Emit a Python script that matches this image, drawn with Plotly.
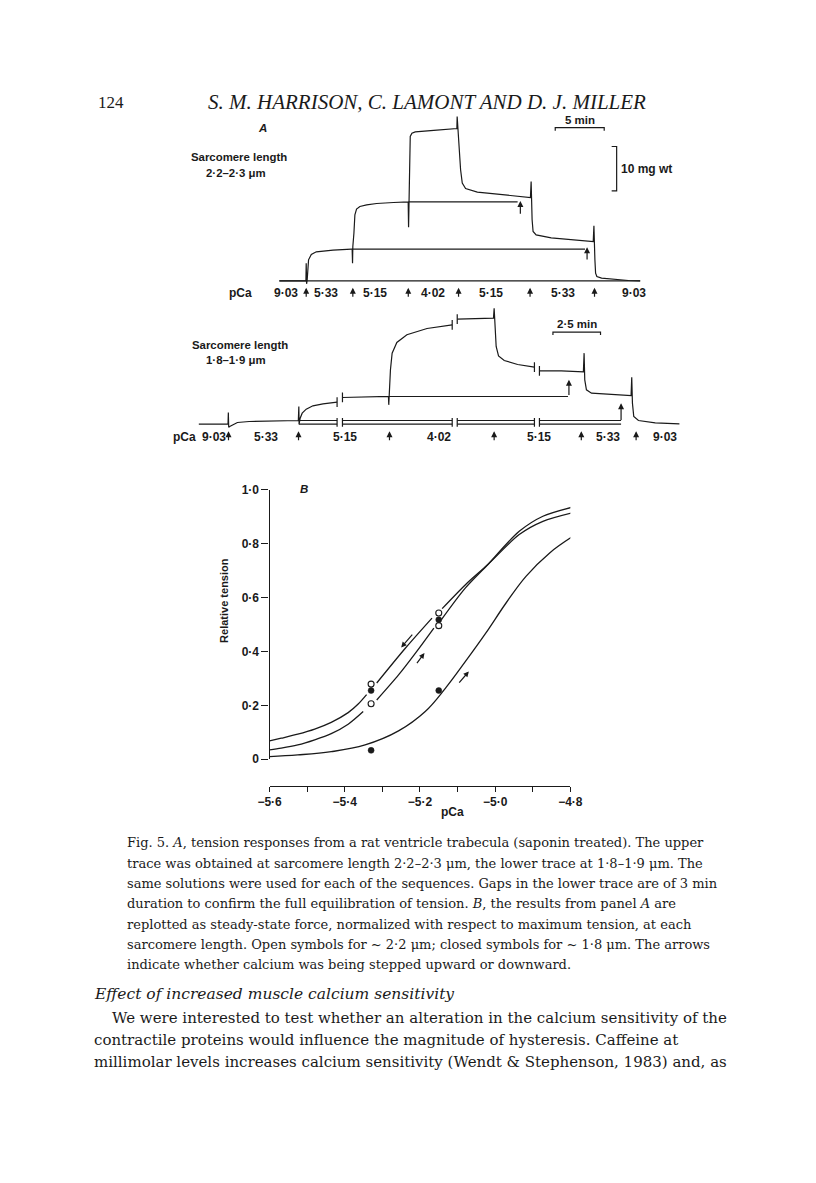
import plotly.graph_objects as go

W, H = 816, 1183
INK = "#1a1a1a"
SANS = "Liberation Sans"
SERIF = "DejaVu Serif"

# ---------------- Panel A, upper trace (time in min, force in mg) ----------------
upper_t = [0, 2.60, 2.71, 2.74, 2.78, 2.84, 2.98, 3.26, 3.77, 5.48, 7.36, 7.43, 7.47, 7.50, 7.61,
           7.71, 7.88, 8.22, 8.91, 9.93, 11.65, 13.15, 13.19, 13.26, 13.29, 13.36, 13.53, 13.87,
           15.76, 18.12, 18.15, 18.22, 18.36, 18.50, 18.67, 19.01, 20.21, 22.61, 25.63, 25.70,
           25.73, 25.80, 25.90, 26.21, 27.75, 30.15, 32.04, 32.11, 32.14, 32.21, 32.28, 32.41,
           32.89, 34.26, 35.63, 36.83]
upper_f = [0, 0, 0, 3.99, -0.68, 0.23, 4.74, 5.94, 6.55, 6.92, 7.15, 7.15, 3.99, 7.75, 10.76,
           14.90, 16.18, 16.78, 17.16, 17.46, 17.68, 17.83, 12.11, 18.28, 25.81, 32.58, 33.33, 33.63,
           33.94, 34.39, 37.10, 34.09, 29.57, 25.06, 22.05, 20.84, 20.02, 19.41, 18.81, 22.42,
           18.28, 13.77, 11.14, 10.38, 9.71, 9.26, 8.88, 12.42, 8.50, 4.74, 1.73, 0.98,
           0.60, 0.30, 0.08, 0]
upper_ref_t = [[13.19, 24.32], [7.47, 31.20]]
upper_ref_f = [17.80, 7.15]
upper_mark_t = [24.60, 31.41]
upper_mark_tail = [14.8, 4.5]
upper_mark_head = [18.0, 7.6]
upper_change_t = [2.74, 7.50, 13.16, 18.29, 25.59, 32.17]
upper_label_t = [0.72, 4.80, 9.76, 15.72, 21.58, 28.95, 36.15]
upper_labels = ["9·03", "5·33", "5·15", "4·02", "5·15", "5·33", "9·03"]

# ---------------- Panel A, lower trace ----------------
lower_t = [0, 1.50, 1.534, 1.552, 1.570, 1.623, 1.764, 2.028, 2.646, 3.527, 5.23, 5.256, 5.27,
           5.326, 5.432, 5.644, 5.996, 6.526, 7.266, None,
           7.549, 8.466, 9.877, 9.965, 9.982, 10.018, 10.07, 10.159, 10.406, 10.935, 11.993,
           13.316, None,
           13.58, 14.462, 15.485, 15.52, 15.556, 15.626, 15.75, 16.05, 16.755, 17.637, None,
           17.90, 19.05, 20.21, 20.247, 20.282, 20.37, 20.635, 21.869, 22.716, 22.751, 22.787,
           22.857, 23.104, 23.986, 25.256]
lower_f = [0, 0, 0, 2.63, -0.68, -0.53, -0.23, 0.38, 0.60, 0.68, 0.83, 3.99, 0.0,
           1.35, 2.48, 3.39, 4.14, 4.59, 4.97, None,
           6.02, 6.17, 6.25, 6.25, 4.36, 7.75, 12.26, 16.03, 18.43, 20.17, 21.60,
           22.42, None,
           23.70, 23.85, 23.93, 26.18, 21.67, 17.53, 15.42, 14.37, 13.47, 12.87, None,
           12.04, 12.04, 11.81, 16.03, 10.01, 7.75, 7.00, 6.70, 6.47, 10.61, 4.74,
           1.73, 0.83, 0.30, 0.075]
lower_gaps = [[7.266, 7.549], [13.316, 13.58], [17.637, 17.90]]
lower_gap_f = [[4.97, 6.02], [22.42, 23.70], [12.87, 12.04]]
lower_base_span = [5.256, 22.19]
lower_base_f = [0.0, 0.83]
lower_ref_t = [9.965, 19.40]
lower_ref_f = 6.25
lower_mark_t = [19.45, 22.19]
lower_mark_tail = [6.25, 0.60]
lower_mark_head = [10.0, 4.74]
lower_change_t = [1.56, 5.24, 10.02, 15.52, 20.10, 22.98]
lower_label_t = [0.79, 3.53, 7.67, 12.61, 17.90, 21.48, 24.51]
lower_labels = ["9·03", "5·33", "5·15", "4·02", "5·15", "5·33", "9·03"]

# ---------------- Panel B ----------------
curveA_x = [-5.600, -5.569, -5.525, -5.480, -5.436, -5.391, -5.365, -5.342, None, -5.315, -5.239,
            -5.168, None, -5.141, -5.079, -5.020, -4.936, -4.873, -4.797]
curveA_y = [0.068, 0.078, 0.093, 0.112, 0.137, 0.173, 0.204, 0.240, None, 0.283, 0.412,
            0.524, None, 0.559, 0.648, 0.722, 0.834, 0.883, 0.914]
curveB_x = [-5.600, -5.569, -5.525, -5.480, -5.436, -5.391, -5.351, None, -5.315, -5.257, -5.212,
            -5.163, None, -5.143, -5.079, -5.020, -4.936, -4.873, -4.797]
curveB_y = [0.035, 0.041, 0.053, 0.072, 0.095, 0.130, 0.177, None, 0.220, 0.313, 0.394,
            0.487, None, 0.518, 0.636, 0.722, 0.846, 0.902, 0.935]
curveC_x = [-5.600, -5.525, -5.436, -5.346, -5.257, -5.186, -5.132, -5.079, -5.025, -4.971,
            -4.918, -4.855, -4.797]
curveC_y = [0.010, 0.016, 0.028, 0.053, 0.105, 0.177, 0.264, 0.363, 0.468, 0.580,
            0.679, 0.766, 0.824]
open_x = [-5.33, -5.33, -5.15, -5.15]
open_y = [0.279, 0.206, 0.543, 0.496]
closed_x = [-5.33, -5.33, -5.15, -5.15]
closed_y = [0.255, 0.033, 0.518, 0.255]
arrows_B = [  # (tail x, tail y, head x, head y)
    (-5.217, 0.468, -5.250, 0.415),
    (-5.211, 0.351, -5.188, 0.394),
    (-5.099, 0.279, -5.070, 0.326),
]
xB_ticks = [-5.6, -5.4, -5.2, -5.0, -4.8]
xB_ticktext = ["−5·6", "−5·4", "−5·2", "−5·0", "−4·8"]
xB_minor = [-5.5, -5.3, -5.1, -4.9]
yB_ticks = [0, 0.2, 0.4, 0.6, 0.8, 1.0]
yB_ticktext = ["0", "0·2", "0·4", "0·6", "0·8", "1·0"]

caption = [
    "Fig. 5. <i>A</i>, tension responses from a rat ventricle trabecula (saponin treated). The upper",
    "trace was obtained at sarcomere length 2·2–2·3 μm, the lower trace at 1·8–1·9 μm. The",
    "same solutions were used for each of the sequences. Gaps in the lower trace are of 3 min",
    "duration to confirm the full equilibration of tension. <i>B</i>, the results from panel <i>A</i> are",
    "replotted as steady-state force, normalized with respect to maximum tension, at each",
    "sarcomere length. Open symbols for ~ 2·2 μm; closed symbols for ~ 1·8 μm. The arrows",
    "indicate whether calcium was being stepped upward or downward.",
]
body = [
    "We were interested to test whether an alteration in the calcium sensitivity of the",
    "contractile proteins would influence the magnitude of hysteresis. Caffeine at",
    "millimolar levels increases calcium sensitivity (Wendt & Stephenson, 1983) and, as",
]


# page-placement correction (observed offset/scale of the photographed page)
def X(px):
    return (px - 22.4) / 0.964


def Y(py):
    return (py - 15.2) / 0.988


fig = go.Figure()
line = dict(color=INK, width=1.2)

# upper trace
fig.add_trace(go.Scatter(x=upper_t, y=upper_f, mode="lines", line=line, xaxis="x", yaxis="y"))
fig.add_trace(go.Scatter(x=[upper_t[0], upper_t[-1]], y=[0, 0], mode="lines", line=line,
                         xaxis="x", yaxis="y"))
for span, f in zip(upper_ref_t, upper_ref_f):
    fig.add_trace(go.Scatter(x=span, y=[f, f], mode="lines", line=line, xaxis="x", yaxis="y"))
# scale bars (upper)
fig.add_trace(go.Scatter(x=[28.16, 28.16, 33.16, 33.16], y=[33.9, 34.6, 34.6, 33.9], mode="lines",
                         line=line, xaxis="x", yaxis="y"))
fig.add_trace(go.Scatter(x=[33.92, 34.43, 34.43, 33.92], y=[30.32, 30.32, 20.32, 20.32], mode="lines",
                         line=line, xaxis="x", yaxis="y"))

# lower trace
fig.add_trace(go.Scatter(x=lower_t, y=lower_f, mode="lines", line=line, xaxis="x2", yaxis="y2",
                         connectgaps=False))
for fb in lower_base_f:
    xs, ys = [], []
    start = lower_base_span[0]
    for g0, g1 in lower_gaps:
        xs += [start, g0, None]
        ys += [fb, fb, None]
        start = g1
    xs += [start, lower_base_span[1]]
    ys += [fb, fb]
    fig.add_trace(go.Scatter(x=xs, y=ys, mode="lines", line=line, xaxis="x2", yaxis="y2"))
# gap markers
gx, gy = [], []
for (g0, g1), (f0, f1) in zip(lower_gaps, lower_gap_f):
    for t, f in ((g0, f0), (g1, f1)):
        gx += [t, t, None]
        gy += [f - 1.1, f + 1.1, None]
    for t in (g0, g1):
        gx += [t, t, None]
        gy += [-0.6, 1.4, None]
fig.add_trace(go.Scatter(x=gx, y=gy, mode="lines", line=line, xaxis="x2", yaxis="y2"))
fig.add_trace(go.Scatter(x=lower_ref_t, y=[lower_ref_f] * 2, mode="lines", line=line,
                         xaxis="x2", yaxis="y2"))
fig.add_trace(go.Scatter(x=[18.61, 18.61, 21.11, 21.11], y=[20.1, 20.77, 20.77, 20.1], mode="lines",
                         line=line, xaxis="x2", yaxis="y2"))

# panel B
for (cx, cy), sm in (((curveA_x, curveA_y), 0.85), ((curveB_x, curveB_y), 0.85),
                     ((curveC_x, curveC_y), 1.1)):
    fig.add_trace(go.Scatter(x=cx, y=cy, mode="lines", line=dict(color=INK, width=1.3, shape="spline",
                                                                 smoothing=sm),
                             xaxis="x3", yaxis="y3"))
fig.add_trace(go.Scatter(x=open_x, y=open_y, mode="markers", xaxis="x3", yaxis="y3",
                         marker=dict(symbol="circle", size=6, color="white",
                                     line=dict(color=INK, width=1.1)), cliponaxis=False))
fig.add_trace(go.Scatter(x=closed_x, y=closed_y, mode="markers", xaxis="x3", yaxis="y3",
                         marker=dict(symbol="circle", size=6, color=INK,
                                     line=dict(color=INK, width=0.5)), cliponaxis=False))

ann = []


def ptext(px, py, text, size, family=SANS, xanchor="center", bold=False, italic=False, angle=0):
    if italic:
        text = "<i>" + text + "</i>"
    if bold:
        text = "<b>" + text + "</b>"
    ann.append(dict(x=X(px) / W, y=1 - Y(py) / H, xref="paper", yref="paper", text=text,
                    showarrow=False, xanchor=xanchor, yanchor="middle", textangle=angle, borderpad=0,
                    font=dict(family=family, size=size, color=INK)))


def atext(x, y, text, xr, yr, size=12):
    ann.append(dict(x=x, y=y, xref=xr, yref=yr, text="<b>" + text + "</b>", showarrow=False,
                    xanchor="center", yanchor="middle", borderpad=0,
                    font=dict(family=SANS, size=size, color=INK)))


def arrow(x0, y0, x1, y1, xr, yr, w=1.2, s=1.0):
    ann.append(dict(x=x1, y=y1, ax=x0, ay=y0, xref=xr, yref=yr, axref=xr, ayref=yr, text="",
                    showarrow=True, arrowhead=2, arrowsize=s, arrowwidth=w, arrowcolor=INK,
                    standoff=0, startstandoff=0))


# panel A labels
for t, s in zip(upper_label_t, upper_labels):
    atext(t, -2.78, s, "x", "y")
atext(-3.94, -2.78, "pCa", "x", "y")
for t in upper_change_t:
    arrow(t, -3.95, t, -1.55, "x", "y")
for t, a, b in zip(upper_mark_t, upper_mark_tail, upper_mark_head):
    arrow(t, a, t, b, "x", "y")
atext(30.66, 36.4, "5 min", "x", "y", size=11.5)
ann.append(dict(x=34.8, y=25.3, xref="x", yref="y", text="<b>10 mg wt</b>", showarrow=False,
                xanchor="left", yanchor="middle", borderpad=0,
                font=dict(family=SANS, size=12, color=INK)))

for t, s in zip(lower_label_t, lower_labels):
    atext(t, -2.8, s, "x2", "y2")
atext(-0.74, -2.8, "pCa", "x2", "y2")
for t in lower_change_t:
    arrow(t, -3.95, t, -1.6, "x2", "y2")
for t, a, b in zip(lower_mark_t, lower_mark_tail, lower_mark_head):
    arrow(t, a, t, b, "x2", "y2")
atext(19.86, 22.64, "2·5 min", "x2", "y2", size=11.5)

ptext(263, 128, "A", 11.5, bold=True, italic=True)
ptext(240, 157, "Sarcomere length", 11.4, bold=True)
ptext(237, 173, "2·2–2·3 μm", 11.4, bold=True)
ptext(241, 345, "Sarcomere length", 11.4, bold=True)
ptext(237, 360, "1·8–1·9 μm", 11.4, bold=True)

# panel B labels
ptext(304, 489, "B", 11.5, bold=True, italic=True)
ptext(225, 600, "Relative tension", 11, bold=True, angle=-90)
ptext(452, 812, "pCa", 12, bold=True)
for x0, y0, x1, y1 in arrows_B:
    arrow(x0, y0, x1, y1, "x3", "y3", w=1.2, s=0.9)

# page text
ptext(99, 103, "124", 17, family="Liberation Serif", xanchor="left")
ptext(208, 102, "S. M. HARRISON, C. LAMONT AND D. J. MILLER", 21, family="Liberation Serif",
      xanchor="left", italic=True)
for i, s in enumerate(caption):
    ptext(127.5, 843 + i * 20.3, s, 13.0, family=SERIF, xanchor="left")
ptext(95, 994, "Effect of increased muscle calcium sensitivity", 15.5, family=SERIF, xanchor="left",
      italic=True)
for i, s in enumerate(body):
    ptext(113 if i == 0 else 95, 1018.5 + i * 22, s, 15.0, family=SERIF, xanchor="left")

hidden = dict(visible=False, showgrid=False, zeroline=False, fixedrange=True)
fig.update_layout(
    width=W, height=H, margin=dict(l=0, r=0, t=0, b=0), paper_bgcolor="white",
    plot_bgcolor="rgba(0,0,0,0)", showlegend=False, annotations=ann,
    xaxis=dict(hidden, domain=[X(150) / W, X(700) / W], range=[(150 - 280) / 9.73, (700 - 280) / 9.73]),
    yaxis=dict(hidden, domain=[1 - Y(300) / H, 1 - Y(100) / H],
               range=[(281 - 300) / 4.43, (281 - 100) / 4.43]),
    xaxis2=dict(hidden, domain=[X(150) / W, X(700) / W], range=[(150 - 200) / 18.9, (700 - 200) / 18.9],
                anchor="y2"),
    yaxis2=dict(hidden, domain=[1 - Y(450) / H, 1 - Y(300) / H],
                range=[(424.3 - 450) / 4.43, (424.3 - 300) / 4.43], anchor="x2"),
    xaxis3=dict(domain=[X(270.3) / W, X(569) / W], range=[-5.6, -4.8], anchor="free",
                position=1 - Y(786) / H,
                showgrid=False, zeroline=False, showline=True, linecolor=INK, linewidth=1.3,
                ticks="outside", ticklen=5, tickwidth=1.3, tickcolor=INK,
                tickvals=xB_ticks, ticktext=["<b>" + t + "</b>" for t in xB_ticktext],
                tickfont=dict(family=SANS, size=12, color=INK),
                minor=dict(tickvals=xB_minor, ticks="outside", ticklen=5, tickwidth=1.3, tickcolor=INK)),
    yaxis3=dict(domain=[1 - Y(759.3) / H, 1 - Y(490) / H], range=[0, 1], anchor="x3",
                showgrid=False, zeroline=False, showline=True, linecolor=INK, linewidth=1.3,
                ticks="outside", ticklen=7, tickwidth=1.3, tickcolor=INK,
                tickvals=yB_ticks, ticktext=["<b>" + t + "</b>" for t in yB_ticktext],
                tickfont=dict(family=SANS, size=12, color=INK)),
)
fig.write_html("out.html")
